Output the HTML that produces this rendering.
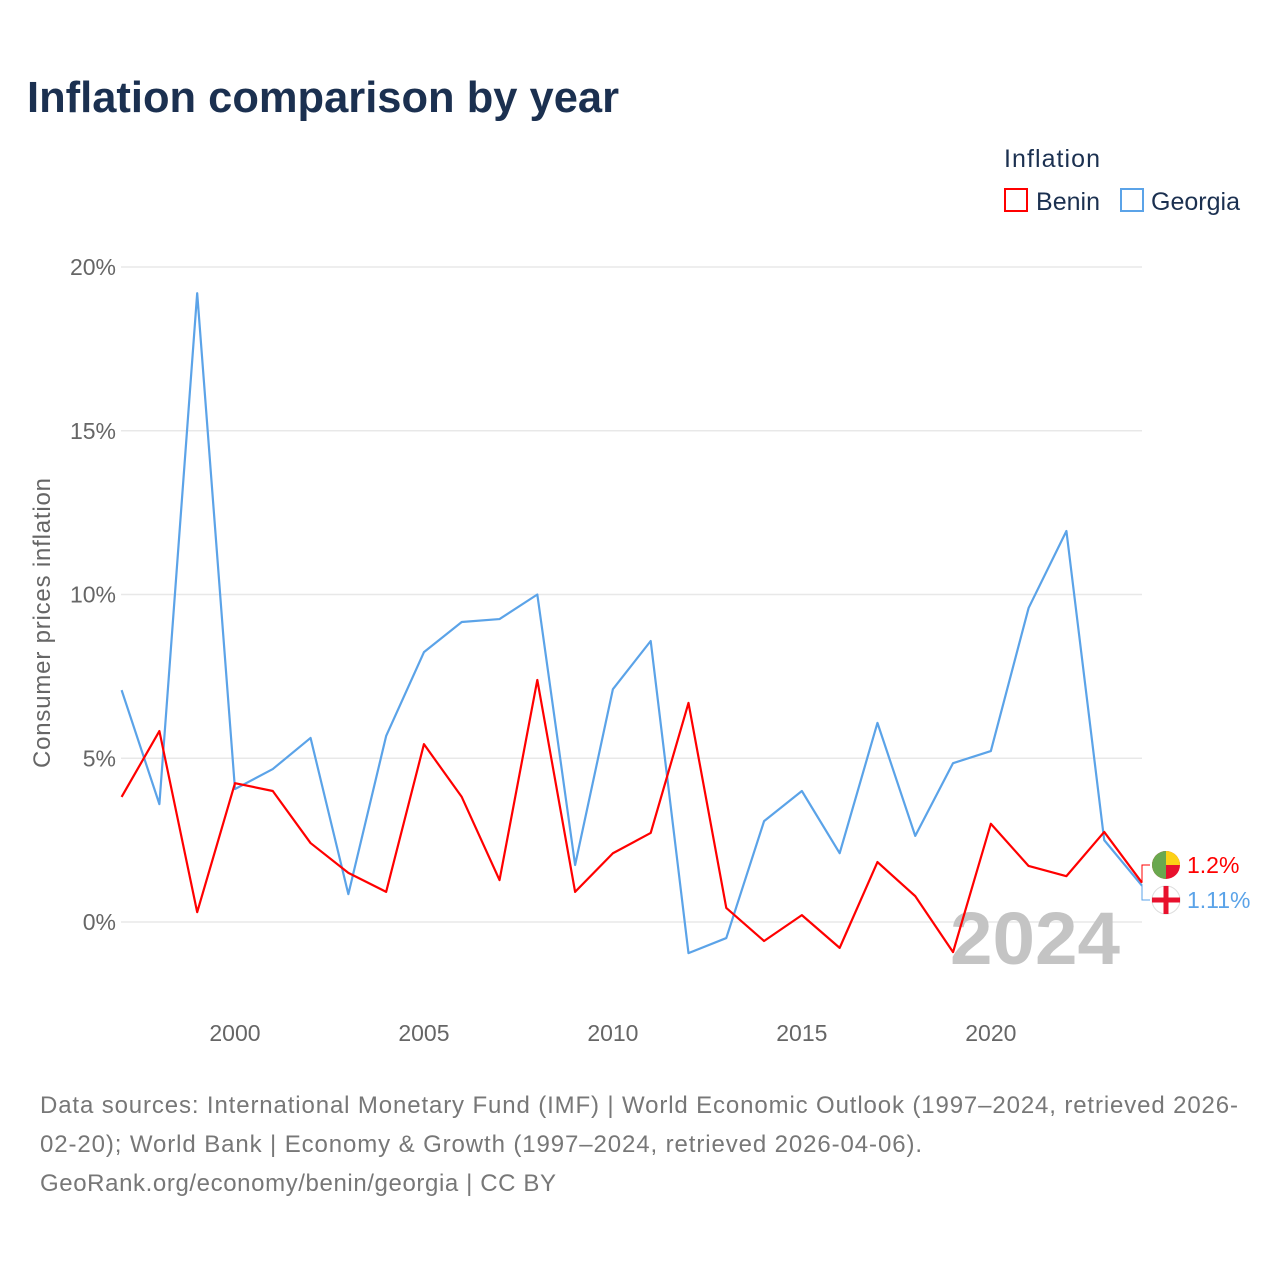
<!DOCTYPE html>
<html><head><meta charset="utf-8">
<style>
body{margin:0;background:#fff;font-family:"Liberation Sans",sans-serif;}
svg text{font-family:"Liberation Sans",sans-serif;}
</style></head>
<body>
<svg id="chart" width="1280" height="1280" viewBox="0 0 1280 1280">
<text x="27" y="112" font-size="44" font-weight="bold" fill="#1b3050" textLength="592" lengthAdjust="spacingAndGlyphs">Inflation comparison by year</text>
<g>
<text x="1004" y="167" font-size="25" fill="#1b3050" textLength="96">Inflation</text>
<g><rect x="1005" y="189" width="22" height="22" fill="none" stroke="#f00" stroke-width="2"/><text x="1036" y="210" font-size="25" fill="#1b3050" textLength="64">Benin</text></g>
<g><rect x="1121" y="189" width="22" height="22" fill="none" stroke="#5ba3e8" stroke-width="2"/><text x="1151" y="210" font-size="25" fill="#1b3050" textLength="89">Georgia</text></g>
</g>
<text transform="translate(50,623) rotate(-90)" text-anchor="middle" font-size="24" fill="#666" textLength="290">Consumer prices inflation</text>
<g id="grid"></g><g id="yt"></g><g id="xt"></g>
<text x="950" y="964" font-size="74" font-weight="bold" fill="#c4c4c4" textLength="170" lengthAdjust="spacingAndGlyphs">2024</text>
<g id="series"></g>
<g font-size="24" fill="#777">
<text x="40" y="1113" textLength="1198">Data sources: International Monetary Fund (IMF) | World Economic Outlook (1997–2024, retrieved 2026-</text>
<text x="40" y="1152" textLength="882">02-20); World Bank | Economy &amp; Growth (1997–2024, retrieved 2026-04-06).</text>
<text x="40" y="1191" textLength="516">GeoRank.org/economy/benin/georgia | CC BY</text>
</g>
</svg>
<script>
const years=[1997,1998,1999,2000,2001,2002,2003,2004,2005,2006,2007,2008,2009,2010,2011,2012,2013,2014,2015,2016,2017,2018,2019,2020,2021,2022,2023,2024];
const benin=[3.82,5.83,0.3,4.24,4.0,2.41,1.5,0.92,5.43,3.82,1.28,7.39,0.92,2.1,2.72,6.69,0.43,-0.58,0.21,-0.79,1.83,0.79,-0.92,3.0,1.71,1.4,2.75,1.2];
const georgia=[7.08,3.6,19.2,4.06,4.67,5.62,0.85,5.68,8.24,9.16,9.25,10.0,1.74,7.11,8.58,-0.95,-0.49,3.08,4.0,2.1,6.08,2.63,4.85,5.22,9.59,11.94,2.5,1.11];
const yTicks=[0,5,10,15,20];
const yTickLabels=["0%","5%","10%","15%","20%"];
const xTicks=[2000,2005,2010,2015,2020];
const NS="http://www.w3.org/2000/svg";
const X=v=>121.6+(v-1997)*(1142-121.6)/27;
const Y=v=>922-v*32.75;
function mk(t,a,p){const e=document.createElementNS(NS,t);for(const k in a)e.setAttribute(k,a[k]);p.appendChild(e);return e;}
const grid=document.getElementById('grid'),yt=document.getElementById('yt'),xt=document.getElementById('xt'),sg=document.getElementById('series');
yTicks.forEach((v,i)=>{
 const l=mk('line',{x1:121,x2:1142,y1:Y(v),y2:Y(v),stroke:'#e8e8e8','stroke-width':1.5},grid);
 
 
 const t=mk('text',{x:116,y:Y(v)+8,'text-anchor':'end','font-size':23,fill:'#666'},yt);
 t.textContent=yTickLabels[i];
 
 
});
xTicks.forEach(v=>{
 const t=mk('text',{x:X(v),y:1041,'text-anchor':'middle','font-size':23,fill:'#666'},xt);
 t.textContent=v;
 
 
});
function line(data,color,name){
 const p=mk('polyline',{points:data.map((v,i)=>X(years[i])+','+Y(v)).join(' '),fill:'none',stroke:color,'stroke-width':2.2,'stroke-linejoin':'round'},sg);
 
 
}
line(georgia,'#5ba3e8','georgia-line');
line(benin,'#f00','benin-line');
const bl=benin[benin.length-1],gl=georgia[georgia.length-1];
const bY=865,gY=900;
mk('polyline',{points:`${X(2024)},${Y(bl)} 1142,${bY} 1150,${bY}`,fill:'none',stroke:'#f00','stroke-width':1},sg);
mk('polyline',{points:`${X(2024)},${Y(gl)} 1142,${gY} 1150,${gY}`,fill:'none',stroke:'#5ba3e8','stroke-width':1},sg);
const bf=mk('g',{},sg);


mk('circle',{cx:1166,cy:bY,r:14,fill:'#e8112d'},bf);
mk('path',{d:`M1166 ${bY-14} A14 14 0 0 1 1180 ${bY} L1166 ${bY} Z`,fill:'#fcd116'},bf);
mk('path',{d:`M1166 ${bY-14} A14 14 0 0 0 1166 ${bY+14} Z`,fill:'#6aa84f'},bf);
const gf=mk('g',{},sg);


mk('circle',{cx:1166,cy:gY,r:14,fill:'#fff',stroke:'#ddd'},gf);
mk('rect',{x:1152,y:gY-2.5,width:28,height:5,fill:'#e8112d'},gf);
mk('rect',{x:1163.5,y:gY-14,width:5,height:28,fill:'#e8112d'},gf);
const bt=mk('text',{x:1187,y:bY+8,'font-size':23,fill:'#f00'},sg);
bt.textContent=bl+'%';


const gt=mk('text',{x:1187,y:gY+8,'font-size':23,fill:'#5ba3e8'},sg);
gt.textContent=gl+'%';


</script>
</body></html>
